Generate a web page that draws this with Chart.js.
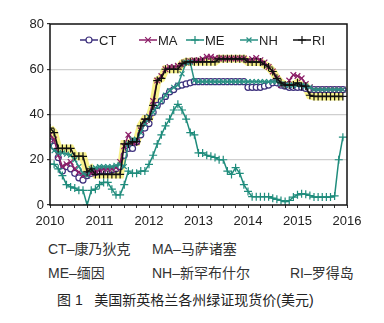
<!DOCTYPE html>
<html>
<head>
<meta charset="utf-8">
<script src="https://cdn.jsdelivr.net/npm/chart.js"></script>
<style>
    body { margin: 0; background: #fff; }
    #wrap { position: relative; width: 384px; height: 323px; font-family: "Liberation Sans", "Noto Sans CJK SC", sans-serif; color: #333; }
    #myChart { position: absolute; left: 0; top: 0; }
    .cap { position: absolute; font-size: 14px; line-height: 16px; white-space: pre; }
</style>
</head>
<body>
<div id="wrap">
    <canvas id="myChart" width="384" height="232"></canvas>
    <div class="cap" style="left:48px; top:241px;">CT–康乃狄克</div>
    <div class="cap" style="left:152px; top:241px;">MA–马萨诸塞</div>
    <div class="cap" style="left:48px; top:265px;">ME–缅因</div>
    <div class="cap" style="left:152px; top:265px;">NH–新罕布什尔</div>
    <div class="cap" style="left:290px; top:265px;">RI–罗得岛</div>
    <div class="cap" style="left:57px; top:292px; color:#222;">图 1   美国新英格兰各州绿证现货价(美元)</div>
</div>
<script>
// monthly spot prices, Jan 2010 .. Dec 2015
const years = ['2010', '2011', '2012', '2013', '2014', '2015', '2016'];
const seriesNames = ['CT', 'MA', 'ME', 'NH', 'RI'];

const ct = [28, 26, 21, 15, 17, 16, 14, 12, 11, 13,
    14, 14.5, 15, 15, 15, 15.5, 16, 17, 22, 25,
    25, 28, 31, 34, 36, 41, 44, 46, 48, 50,
    51, 52.5, 53, 53.5, 54, 54.5,
    54.5, 54.5, 54.5, 54.5, 54.5, 54.5, 54.5, 54.5, 54.5, 54.5, 54.5, 54.5,
    52, 52, 52, 52, 52.5, 53, 54, 54, 53, 52.5, 52, 52,
    52, 52, 51.5, 51, 51, 51, 51, 51, 51, 51, 51, 51];
const ma = [31, 29, 22, 17, 18, 19, 16, 14.5, 13, 13,
    14, 15, 15.5, 16, 16, 16, 16.5, 19, 26, 31,
    27.5, 28, 33, 37, 39, 46, 55, 57, 60, 61,
    61, 61.5, 62, 63, 63.5, 64,
    64, 64.5, 65.5, 65.5, 65, 64.8, 64.8, 64.8, 64.8, 64.8, 64.8, 64.8,
    64, 64.5, 65, 64, 63, 61, 59, 56, 53, 53, 55, 57.5,
    57, 56, 53.5, 52, 51, 51, 51, 51, 51, 51, 51, 51];
const me = [18, 18, 16, 13, 9, 8, 7.5, 6.5, 6.5, 0,
    6.5, 7, 9, 10, 10, 7, 4.5, 4.5, 9, 15,
    14, 14, 15, 15, 18, 22, 27, 31, 35, 38,
    42, 44.5, 42, 38, 32, 31,
    23, 23, 22, 21.5, 21, 20, 20, 15, 13.5, 16.5, 14, 9,
    6, 3.7, 3.7, 3.7, 3.7, 3.7, 3, 2.5, 2, 1.5, 2, 3.5,
    4.5, 5, 4.8, 4.2, 3.5, 3.5, 3.5, 3.5, 3.5, 4, 20, 30];
const nh = [26, 24, 23, 23, 22.5, 22, 20, 17, 14, 13,
    16, 16.5, 17, 17, 17, 17, 17.5, 18, 17, 27,
    29, 29, 32, 36, 39, 41, 43.5, 46, 48.5, 50.5,
    52, 53, 58, 63, 63, 55,
    54.5, 54.5, 54.5, 54.5, 54.5, 54.5, 54.5, 54.5, 54.5, 54.5, 54.5, 54.5,
    54.5, 54.5, 54.5, 54.5, 54.5, 54.5, 54.5, 54.5, 53.5, 53, 53, 53,
    53, 53, 52.5, 52, 51, 51, 51, 51, 51, 51, 51, 51];
const ri = [34, 32, 25, 25, 25, 25, 21.5, 21.5, 21.5, 14.7,
    16, 13.5, 13.5, 13.5, 13.5, 13.5, 13.5, 13.5, 27, 27,
    28, 28, 35, 38, 38, 44, 55, 56, 60, 60,
    60, 60, 62.5, 63.3, 63.3, 63.3,
    63.3, 63.3, 63.3, 63.3, 63.3, 64.6, 64.6, 64.6, 64.6, 64.6, 64.6, 64.6,
    63.2, 63.2, 63.2, 63.2, 62, 61, 59, 56, 54, 53, 53, 53,
    54, 52.5, 52.5, 48.5, 48, 48, 48, 48, 48, 48, 48, 48];

const yTicks = [0, 20, 40, 60, 80];

function points(values) {
    return values.map((v, i) => ({ x: i, y: v }));
}

const styles = {
    CT: { color: '#3c2f7c', pointStyle: 'circle', radius: 3, bg: '#fff', order: 4 },
    MA: { color: '#8c1f68', pointStyle: 'crossRot', radius: 4, bg: '#8c1f68', order: 3 },
    ME: { color: '#1f8c7c', pointStyle: 'cross', radius: 4, bg: '#1f8c7c', order: 2 },
    NH: { color: '#2a9184', pointStyle: 'crossRot', radius: 3.5, bg: '#2a9184', order: 1 },
    RI: { color: '#111', pointStyle: 'cross', radius: 4, bg: '#111', order: 0 }
};
const values = { CT: ct, MA: ma, ME: me, NH: nh, RI: ri };

const datasets = seriesNames.map(name => ({
    label: name,
    data: points(values[name]),
    borderColor: styles[name].color,
    backgroundColor: styles[name].bg,
    pointBorderColor: styles[name].color,
    pointBackgroundColor: styles[name].bg,
    pointStyle: styles[name].pointStyle,
    pointRadius: styles[name].radius,
    pointBorderWidth: 1.2,
    borderWidth: 1.5,
    tension: 0,
    order: styles[name].order
}));

// yellow halo under RI
datasets.push({
    label: 'RI-glow',
    data: points(ri),
    borderColor: 'rgba(246, 238, 100, 0.75)',
    borderWidth: 8,
    pointRadius: 0,
    tension: 0,
    order: 9
});

// legend inside the plot + frame
const legendX = [80, 139, 186, 240, 293];
const insideLegend = {
    id: 'insideLegend',
    afterDatasetsDraw(chart) {
        const ctx = chart.ctx;
        const a = chart.chartArea;
        ctx.save();
        ctx.strokeStyle = '#111';
        ctx.lineWidth = 1.5;
        ctx.strokeRect(a.left, a.top, a.right - a.left, a.bottom - a.top);

        const y = a.top + 16;
        ctx.font = '13px "Liberation Sans", Arial, sans-serif';
        ctx.textBaseline = 'middle';
        seriesNames.forEach((name, i) => {
            const ds = chart.data.datasets[i];
            const x0 = legendX[i];
            ctx.strokeStyle = ds.borderColor;
            ctx.lineWidth = ds.borderWidth;
            ctx.beginPath();
            ctx.moveTo(x0, y);
            ctx.lineTo(x0 + 18, y);
            ctx.stroke();
            ctx.fillStyle = ds.pointBackgroundColor;
            ctx.strokeStyle = ds.pointBorderColor;
            ctx.lineWidth = ds.pointBorderWidth;
            Chart.helpers.drawPoint(ctx, {
                pointStyle: ds.pointStyle,
                radius: ds.pointRadius,
                borderWidth: ds.pointBorderWidth,
                rotation: 0
            }, x0 + 9, y);
            ctx.fillStyle = '#222';
            ctx.fillText(name, x0 + 19, y + 1);
        });
        ctx.restore();
    }
};

const ctx = document.getElementById('myChart').getContext('2d');
const myChart = new Chart(ctx, {
    type: 'line',
    data: { datasets: datasets },
    options: {
        responsive: false,
        animation: false,
        devicePixelRatio: 1,
        layout: { padding: { top: 24, right: 37, left: 0, bottom: 0 } },
        plugins: { legend: { display: false }, tooltip: { enabled: false } },
        scales: {
            x: {
                type: 'linear',
                min: 0,
                max: 72,
                afterFit: s => { s.height = 27; },
                border: { display: false },
                grid: { drawOnChartArea: false, tickLength: 3, tickColor: '#333' },
                ticks: {
                    stepSize: 3,
                    autoSkip: false,
                    maxRotation: 0,
                    padding: 6,
                    color: '#222',
                    font: { family: '"Liberation Sans", Arial, sans-serif', size: 13 },
                    callback: v => (v % 12 === 0 ? years[v / 12] : '')
                }
            },
            y: {
                min: 0,
                max: 80,
                afterFit: s => { s.width = 50; },
                afterBuildTicks: s => { s.ticks = yTicks.map(v => ({ value: v })); },
                border: { display: false },
                grid: {
                    color: c => (c.tick.value === 0 || c.tick.value === 80 ? 'rgba(0,0,0,0)' : '#cfcfcf'),
                    lineWidth: 1.2,
                    tickLength: 3,
                    tickColor: '#333'
                },
                ticks: {
                    padding: 3,
                    color: '#222',
                    font: { family: '"Liberation Sans", Arial, sans-serif', size: 13 }
                }
            }
        }
    },
    plugins: [insideLegend]
});
</script>
</body>
</html>
